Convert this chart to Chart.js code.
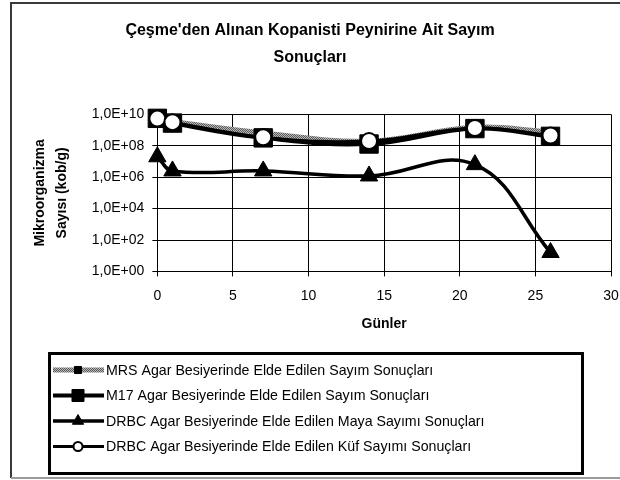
<!DOCTYPE html>
<html>
<head>
<meta charset="utf-8">
<script src="https://cdn.jsdelivr.net/npm/chart.js@4/dist/chart.umd.min.js"></script>
<style>
body{margin:0;background:#fff;}
</style>
</head>
<body>
<canvas id="grafico" width="620" height="480"></canvas>
<script>
// Veriler (grafikten okunan tahmini değerler)

const gunler = [0, 1, 7, 14, 21, 26];
const mrs = [5.6e9, 3.6e9, 6.6e8, 2.0e8, 1.5e9, 7.6e8];
const m17 = [5.6e9, 2.8e9, 3.2e8, 1.3e8, 1.25e9, 4.0e8];
const maya = [2.0e7, 2.5e6, 2.5e6, 1.2e6, 6.3e6, 1.6e1];
const kuf = [5.4e9, 3.2e9, 3.5e8, 2.0e8, 1.35e9, 4.5e8];

const xTicks = [0, 5, 10, 15, 20, 25, 30];
const yTicks = [1e0, 1e2, 1e4, 1e6, 1e8, 1e10];

const seriesNames = [
"MRS Agar Besiyerinde Elde Edilen Sayım Sonuçları",
"M17 Agar Besiyerinde Elde Edilen Sayım Sonuçları",
"DRBC Agar Besiyerinde Elde Edilen Maya Sayımı Sonuçları",
"DRBC Agar Besiyerinde Elde Edilen Küf Sayımı Sonuçları"
];

const ctx = document.getElementById("grafico");
const c2d = ctx.getContext("2d");

// MRS çizgisi için gri desen
const pc = document.createElement("canvas");
pc.width = 2; pc.height = 2;
const pctx = pc.getContext("2d");
pctx.fillStyle = "#b8b8b8"; pctx.fillRect(0, 0, 2, 2);
pctx.fillStyle = "#5a5a5a"; pctx.fillRect(0, 0, 1, 1); pctx.fillRect(1, 1, 1, 1);
const grayPattern = c2d.createPattern(pc, "repeat");

function pts(values){
return gunler.map((g, i) => ({x: g, y: values[i]}));
}

Chart.defaults.font.family = "'Liberation Sans', Arial, sans-serif";
Chart.defaults.color = "#000";

// Çerçeve
const frame = {
id: "frame",
beforeDraw(chart){
const c = chart.ctx;
c.save();
c.fillStyle = "#fff";
c.fillRect(0, 0, chart.width, chart.height);
c.strokeStyle = "#3a3a3a";
c.lineWidth = 2;
c.beginPath();
c.moveTo(630, 3);
c.lineTo(11, 3);
c.lineTo(11, 478);
c.stroke();
c.strokeStyle = "#9a9a9a";
c.beginPath();
c.moveTo(11, 478);
c.lineTo(630, 478);
c.stroke();
c.restore();
}
};

// Lejant
const legendBox = {
id: "legendBox",
afterDraw(chart){
const c = chart.ctx;
c.save();
c.lineWidth = 3;
c.strokeStyle = "#000";
c.strokeRect(49.5, 353.5, 533, 120);
chart.data.datasets.forEach((ds, i) => {
const y = 370 + i * 25.5;
c.strokeStyle = ds.borderColor;
c.lineWidth = ds.borderWidth;
c.beginPath();
c.moveTo(53, y);
c.lineTo(104, y);
c.stroke();
c.fillStyle = ds.pointBackgroundColor;
c.strokeStyle = ds.pointBorderColor;
c.lineWidth = ds.pointBorderWidth;
Chart.helpers.drawPoint(c, {
pointStyle: ds.pointStyle,
radius: ds.legendRadius,
borderWidth: ds.pointBorderWidth,
rotation: 0
}, 78, y);
c.fillStyle = "#000";
c.font = "14.2px 'Liberation Sans', Arial, sans-serif";
c.textAlign = "left";
c.textBaseline = "middle";
c.fillText(ds.label, 106, y + 1);
});
c.restore();
}
};

new Chart(ctx, {
type: "line",
data: {
datasets: [
{
label: seriesNames[0],
data: pts(mrs),
borderColor: grayPattern,
borderWidth: 5,
pointStyle: "rect",
pointRadius: 5.5,
pointBackgroundColor: "#000",
pointBorderColor: "#000",
pointBorderWidth: 1,
legendRadius: 5,
tension: 0.4,
order: 4
},
{
label: seriesNames[1],
data: pts(m17),
borderColor: "#000",
borderWidth: 4,
pointStyle: "rect",
pointRadius: 13,
pointBackgroundColor: "#000",
pointBorderColor: "#000",
pointBorderWidth: 1,
legendRadius: 8.5,
tension: 0.4,
order: 3
},
{
label: seriesNames[2],
data: pts(maya),
borderColor: "#000",
borderWidth: 3.5,
pointStyle: "triangle",
pointRadius: 10,
pointBackgroundColor: "#000",
pointBorderColor: "#000",
pointBorderWidth: 1,
legendRadius: 6.5,
tension: 0.4,
order: 2
},
{
label: seriesNames[3],
data: pts(kuf),
borderColor: "#000",
borderWidth: 3,
pointStyle: "circle",
pointRadius: 8,
pointBackgroundColor: "#fff",
pointBorderColor: "#000",
pointBorderWidth: 2,
legendRadius: 4.5,
tension: 0.4,
order: 1
}
]
},
options: {
responsive: false,
animation: false,
clip: false,
layout: {
autoPadding: false,
padding: {left: 0, right: 0, top: 0, bottom: 143}
},
plugins: {
legend: {display: false},
tooltip: {enabled: false},
title: {
display: true,
text: ["Çeşme'den Alınan Kopanisti Peynirine Ait Sayım", "Sonuçları"],
font: {size: 16, weight: "bold", lineHeight: 1.7},
color: "#000",
padding: {top: 17, bottom: 43}
}
},
scales: {
x: {
type: "linear",
min: 0,
max: 30,
afterBuildTicks: s => { s.ticks = xTicks.map(v => ({value: v})); },
afterFit: s => { s.paddingRight = 9; },
ticks: {font: {size: 14}, padding: 11, maxRotation: 0},
grid: {color: "#000", lineWidth: 1, tickLength: 5},
border: {color: "#000", width: 1},
title: {
display: true,
text: "Günler",
font: {size: 14, weight: "bold"},
padding: {top: 1, bottom: 4}
}
},
y: {
type: "logarithmic",
min: 1,
max: 1e10,
afterBuildTicks: s => { s.ticks = yTicks.map(v => ({value: v})); },
ticks: {
font: {size: 14},
padding: 8,
callback: v => "1,0E+" + String(Math.round(Math.log10(v))).padStart(2, "0")
},
grid: {color: "#000", lineWidth: 1, tickLength: 5},
border: {color: "#000", width: 1},
title: {
display: true,
text: ["Mikroorganizma", "Sayısı (kob/g)"],
font: {size: 14, weight: "bold", lineHeight: 1.6},
padding: {top: 29, bottom: 10}
}
}
}
},
plugins: [frame, legendBox]
});
</script>
</body>
</html>
